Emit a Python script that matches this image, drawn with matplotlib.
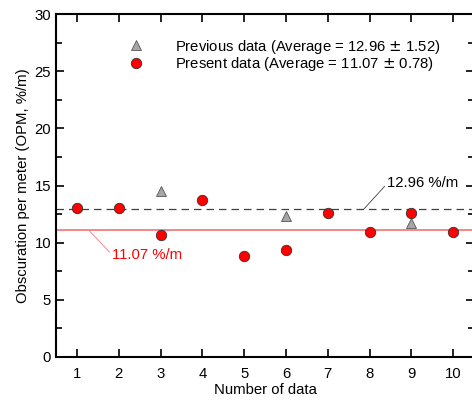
import matplotlib
matplotlib.use('Agg')
import matplotlib.pyplot as plt
from matplotlib.ticker import MultipleLocator

plt.rcParams['font.family'] = ['Liberation Sans', 'DejaVu Sans']

# datos
present_x = [1, 2, 3, 4, 5, 6, 7, 8, 9, 10]
present_y = [13.0, 13.0, 10.7, 13.7, 8.84, 9.33, 12.57, 10.94, 12.57, 10.94]
previous_x = [3, 6, 9]
previous_y = [14.5, 12.33, 11.7]
prev_avg = 12.96
pres_avg = 11.07
prev_label = 'Previous data (Average = 12.96 $\\pm$ 1.52)'
pres_label = 'Present data (Average = 11.07 $\\pm$ 0.78)'

fs = 10.7

fig = plt.figure(figsize=(4.72, 4.03), dpi=100)
ax = fig.add_axes([56 / 472, 46 / 403, 418 / 472, 343 / 403])

ax.axhline(prev_avg, color='#404040', lw=0.9, dashes=(6, 4), zorder=1)
ax.axhline(pres_avg, color='#f47c7c', lw=1.3, zorder=1)

ax.plot(previous_x, previous_y, ls='none', marker='^', ms=7.5,
        mfc='#a6a6a6', mec='#555555', mew=0.6, label=prev_label, zorder=3)
ax.plot(present_x, present_y, ls='none', marker='o', ms=7.5,
        mfc='#ff0000', mec='#333333', mew=0.6, label=pres_label, zorder=4)

# etiquetas de los promedios
ax.annotate('12.96 %/m', xy=(7.87, prev_avg), xytext=(8.43, 15.2),
            fontsize=fs, va='center', ha='left',
            arrowprops=dict(arrowstyle='-', color='#404040', lw=0.6,
                            shrinkA=0, shrinkB=0, relpos=(0, 0.5)))
ax.annotate('11.07 %/m', xy=(1.29, pres_avg), xytext=(1.85, 8.9),
            fontsize=fs, va='center', ha='left', color='red',
            arrowprops=dict(arrowstyle='-', color='#f47c7c', lw=0.6,
                            shrinkA=0, shrinkB=0, relpos=(0, 0.5)))

ax.set_xlim(0.5, 10.5)
ax.set_ylim(0, 30)
ax.set_xticks(present_x)
ax.yaxis.set_major_locator(MultipleLocator(5))
ax.yaxis.set_minor_locator(MultipleLocator(2.5))
ax.tick_params(which='both', direction='in', top=True, right=True,
               labelsize=fs, width=1.2)
ax.tick_params(which='major', length=6)
ax.tick_params(which='minor', length=4)
ax.tick_params(axis='x', pad=7)
for s in ax.spines.values():
    s.set_linewidth(1.5)

ax.set_xlabel('Number of data', fontsize=fs, labelpad=2)
ax.set_ylabel('Obscuration per meter (OPM, %/m)', fontsize=fs, labelpad=3)

ax.legend(loc='upper left', bbox_to_anchor=(0.125, 0.97), frameon=False,
          fontsize=fs, handletextpad=1.6, labelspacing=-0.05)

fig.savefig('out.png', dpi=100)
